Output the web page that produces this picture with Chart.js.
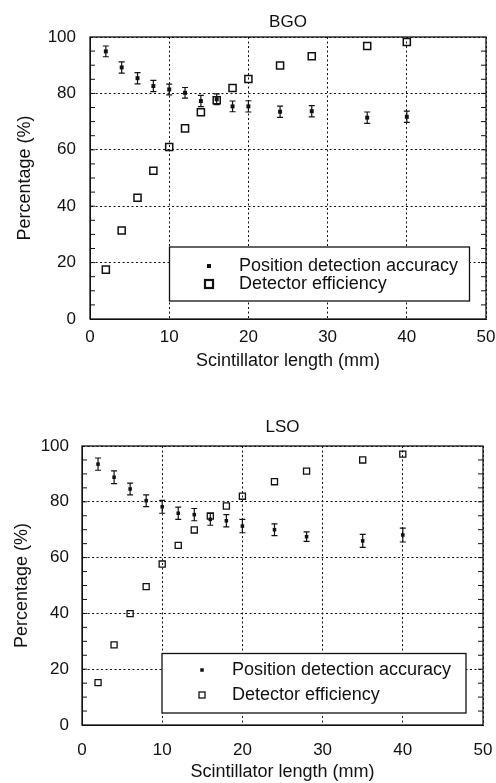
<!DOCTYPE html>
<html><head><meta charset="utf-8">
<script src="https://cdn.jsdelivr.net/npm/chart.js@4.4.0/dist/chart.umd.min.js"></script>
<style>
html,body{margin:0;padding:0;background:#fff;}
#c1{position:absolute;left:0;top:0;}
#c2{position:absolute;left:0;top:392px;}
</style></head><body>
<canvas id="c1" width="496" height="392"></canvas>
<canvas id="c2" width="496" height="391"></canvas>
<script>
// ---- data ----
const lengths = [2, 4, 6, 8, 10, 12, 14, 16, 18, 20, 24, 28, 35, 40];
const bgoAccuracy = [94.9, 89.2, 85.4, 82.6, 81.4, 80.2, 77.3, 77.9, 75.4, 75.4, 73.5, 73.7, 71.4, 71.7];
const bgoAccuracyErr = [1.9, 2.0, 2.0, 2.0, 1.9, 1.9, 2.0, 1.9, 1.9, 2.0, 2.0, 2.0, 2.0, 2.0];
const bgoEfficiency = [17.5, 31.4, 43.0, 52.6, 61.0, 67.6, 73.3, 77.6, 81.9, 85.1, 89.9, 93.2, 96.8, 98.2];
const lsoAccuracy = [93.5, 88.8, 84.6, 80.4, 78.2, 75.9, 75.4, 73.7, 73.2, 71.3, 70.0, 67.5, 66.0, 68.1];
const lsoAccuracyErr = [2.2, 2.3, 2.1, 2.1, 2.3, 2.2, 2.2, 2.1, 2.2, 2.4, 2.1, 1.7, 2.3, 2.5];
const lsoEfficiency = [15.2, 28.7, 39.9, 49.6, 57.7, 64.4, 69.9, 74.9, 78.5, 82.0, 87.2, 91.0, 95.0, 97.1];
const xTickValues = [0, 10, 20, 30, 40, 50];
const yTickValues = [0, 20, 40, 60, 80, 100];
const legendLabels = ['Position detection accuracy', 'Detector efficiency'];
const xTitle = 'Scintillator length (mm)';
const yTitle = 'Percentage (%)';

const FONT = '"Liberation Sans", Arial, Helvetica, sans-serif';
const INK = '#111';
Chart.defaults.font.family = FONT;
Chart.defaults.color = INK;

function makeChart(canvasId, g) {
  const plugin = {
    id: 'deco_' + canvasId,
    beforeDatasetsDraw(chart) {
      const ctx = chart.ctx, xs = chart.scales.x, ys = chart.scales.y;
      ctx.save();
      ctx.strokeStyle = INK; ctx.lineWidth = 1.2;
      g.x.forEach((xv, i) => {
        const px = xs.getPixelForValue(xv);
        const top = ys.getPixelForValue(g.acc[i] + g.err[i]);
        const bot = ys.getPixelForValue(g.acc[i] - g.err[i]);
        ctx.beginPath();
        ctx.moveTo(px, top); ctx.lineTo(px, bot);
        ctx.moveTo(px - 3, top); ctx.lineTo(px + 3, top);
        ctx.moveTo(px - 3, bot); ctx.lineTo(px + 3, bot);
        ctx.stroke();
      });
      ctx.restore();
    },
    afterDraw(chart) {
      const ctx = chart.ctx, a = chart.chartArea, ys = chart.scales.y;
      ctx.save();
      // frame
      ctx.strokeStyle = INK; ctx.lineWidth = 1.3;
      ctx.strokeRect(a.left, a.top, a.right - a.left, a.bottom - a.top);
      // minor ticks on y (left and right, inward)
      ctx.lineWidth = 1;
      ctx.beginPath();
      for (let v = 5; v < 100; v += 5) {
        const py = ys.getPixelForValue(v);
        ctx.moveTo(a.left, py); ctx.lineTo(a.left + 5, py);
        ctx.moveTo(a.right, py); ctx.lineTo(a.right - 5, py);
      }
      ctx.stroke();
      // title
      ctx.fillStyle = INK;
      ctx.font = '17px ' + FONT;
      ctx.textAlign = 'center'; ctx.textBaseline = 'middle';
      ctx.fillText(g.title, (a.left + a.right) / 2 + g.titleDx, g.titleY);
      // legend box
      const L = g.legend;
      ctx.fillStyle = '#fff';
      ctx.fillRect(L.x, L.y, L.w, L.h);
      ctx.lineWidth = 1.3; ctx.strokeStyle = INK;
      ctx.strokeRect(L.x, L.y, L.w, L.h);
      ctx.fillStyle = INK;
      ctx.font = '18px ' + FONT;
      ctx.textAlign = 'left';
      ctx.fillText(legendLabels[0], L.textX, L.row1);
      ctx.fillText(legendLabels[1], L.textX, L.row2);
      const d = L.dot;
      ctx.fillRect(L.markX - d / 2, L.row1 - d / 2, d, d);
      const s = L.sq;
      ctx.lineWidth = L.sqLw;
      ctx.strokeRect(L.markX - s / 2, L.row2 - s / 2, s, s);
      ctx.restore();
    }
  };

  return new Chart(document.getElementById(canvasId), {
    type: 'scatter',
    data: {
      datasets: [
        {
          label: legendLabels[0],
          data: g.x.map((xv, i) => ({ x: xv, y: g.acc[i] })),
          pointStyle: 'rect', pointRadius: g.dotR,
          backgroundColor: INK, borderColor: INK, borderWidth: 0
        },
        {
          label: legendLabels[1],
          data: g.x.map((xv, i) => ({ x: xv, y: g.eff[i] })),
          pointStyle: 'rect', pointRadius: g.sqR,
          backgroundColor: 'rgba(255,255,255,0)', borderColor: INK, borderWidth: g.sqLw
        }
      ]
    },
    options: {
      responsive: false,
      animation: false,
      events: [],
      layout: { padding: { left: 0, right: g.padRight, top: g.padTop, bottom: 0 } },
      plugins: { legend: { display: false }, tooltip: { enabled: false }, title: { display: false } },
      scales: {
        x: {
          type: 'linear', min: 0, max: 50,
          afterBuildTicks(sc) { sc.ticks = xTickValues.map(v => ({ value: v })); },
          afterFit(sc) { sc.height = g.xHeight; sc.paddingLeft = 0; sc.paddingRight = 0; },
          ticks: { font: { size: 17 }, color: INK, padding: g.xTickPad, maxRotation: 0 },
          grid: { color: INK, lineWidth: 1, drawTicks: false },
          border: { display: true, color: INK, width: 1, dash: [2, 2.5] },
          title: { display: true, text: xTitle, font: { size: 18 }, color: INK, padding: { top: 0, bottom: g.xTitlePad } }
        },
        y: {
          type: 'linear', min: 0, max: 100,
          afterBuildTicks(sc) { sc.ticks = yTickValues.map(v => ({ value: v })); },
          afterFit(sc) { sc.width = g.yWidth; sc.paddingTop = 0; sc.paddingBottom = 0; },
          ticks: { font: { size: 17 }, color: INK, padding: g.yTickPad },
          grid: { color: INK, lineWidth: 1, drawTicks: false },
          border: { display: true, color: INK, width: 1, dash: [2, 2.5] },
          title: { display: true, text: yTitle, font: { size: 18 }, color: INK, padding: { top: g.yTitlePad, bottom: 0 } }
        }
      }
    },
    plugins: [plugin]
  });
}

makeChart('c1', {
  x: lengths, acc: bgoAccuracy, err: bgoAccuracyErr, eff: bgoEfficiency,
  title: 'BGO', titleY: 22, titleDx: 0,
  padRight: 10, padTop: 37, xHeight: 73, yWidth: 90,
  xTickPad: 8, yTickPad: 14, xTitlePad: 20, yTitlePad: 14,
  dotR: 2.8, sqR: 5, sqLw: 1.5,
  legend: { x: 169.5, y: 247, w: 300, h: 54, textX: 239, markX: 209, row1: 266, row2: 284, dot: 4, sq: 8, sqLw: 2.2 }
});

makeChart('c2', {
  x: lengths, acc: lsoAccuracy, err: lsoAccuracyErr, eff: lsoEfficiency,
  title: 'LSO', titleY: 35, titleDx: 0,
  padRight: 13, padTop: 54, xHeight: 58, yWidth: 82,
  xTickPad: 15, yTickPad: 13, xTitlePad: 0, yTitlePad: 11,
  dotR: 2.5, sqR: 4.3, sqLw: 1.3,
  legend: { x: 162, y: 261.5, w: 304, h: 59.5, textX: 232, markX: 202, row1: 278, row2: 303, dot: 3.5, sq: 6, sqLw: 1.3 }
});
</script>
</body></html>
